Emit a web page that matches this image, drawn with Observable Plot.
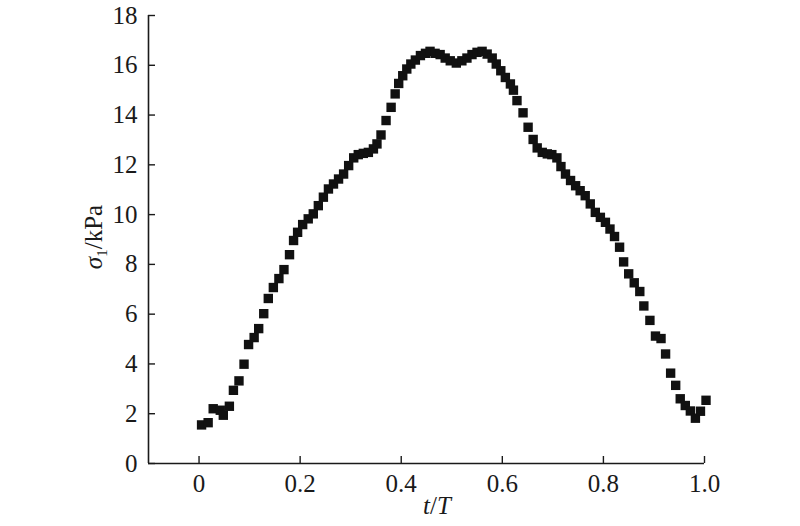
<!DOCTYPE html>
<html>
<head>
<meta charset="utf-8">
<script src="https://cdn.jsdelivr.net/npm/d3@7"></script>
<script src="https://cdn.jsdelivr.net/npm/@observablehq/plot@0.6"></script>
<style>
  html, body { margin: 0; padding: 0; background: #fff; }
  #chart svg { display: block; }
</style>
</head>
<body>
<div id="chart"></div>
<script>
// t/T values
const tValues = [
  0.005, 0.018, 0.028, 0.042, 0.048, 0.060, 0.068, 0.079, 0.089, 0.098,
  0.109, 0.118, 0.128, 0.137, 0.147, 0.158, 0.168, 0.179, 0.187, 0.195,
  0.205, 0.216, 0.226, 0.236, 0.246, 0.256, 0.266, 0.276, 0.286, 0.296,
  0.306, 0.315, 0.325, 0.335, 0.345, 0.352, 0.360, 0.370, 0.380, 0.388,
  0.395, 0.403, 0.411, 0.419, 0.428, 0.438, 0.448, 0.457, 0.467, 0.477,
  0.487, 0.497, 0.509, 0.520, 0.530, 0.540, 0.550, 0.560, 0.570, 0.580,
  0.588, 0.597, 0.606, 0.616, 0.622, 0.629, 0.641, 0.651, 0.661, 0.669,
  0.679, 0.689, 0.698, 0.708, 0.716, 0.725, 0.735, 0.745, 0.754, 0.764,
  0.774, 0.784, 0.794, 0.804, 0.813, 0.822, 0.832, 0.840, 0.850, 0.861,
  0.872, 0.880, 0.892, 0.903, 0.914, 0.923, 0.933, 0.943, 0.952, 0.962,
  0.972, 0.982, 0.992, 1.003
];
// sigma_1 (kPa) values
const sigmaValues = [
  1.55, 1.64, 2.20, 2.14, 1.94, 2.30, 2.94, 3.32, 3.99, 4.78,
  5.06, 5.42, 6.02, 6.63, 7.07, 7.43, 7.79, 8.39, 8.96, 9.29,
  9.60, 9.83, 10.03, 10.36, 10.70, 11.03, 11.23, 11.43, 11.63, 11.97,
  12.28, 12.41, 12.46, 12.50, 12.64, 12.84, 13.20, 13.78, 14.31, 14.85,
  15.27, 15.58, 15.85, 16.05, 16.21, 16.39, 16.48, 16.56, 16.48, 16.43,
  16.29, 16.18, 16.09, 16.18, 16.29, 16.43, 16.52, 16.56, 16.45, 16.29,
  16.05, 15.78, 15.51, 15.25, 15.00, 14.58, 14.09, 13.51, 13.02, 12.68,
  12.50, 12.44, 12.41, 12.28, 11.93, 11.63, 11.37, 11.16, 10.96, 10.76,
  10.43, 10.09, 9.89, 9.69, 9.42, 9.12, 8.69, 8.10, 7.62, 7.26,
  6.91, 6.33, 5.75, 5.12, 5.02, 4.40, 3.63, 3.14, 2.60, 2.33,
  2.11, 1.82, 2.10, 2.54
];
const xTicks = [0, 0.2, 0.4, 0.6, 0.8, 1.0];
const xTickLabels = ["0", "0.2", "0.4", "0.6", "0.8", "1.0"];
const yTicks = [0, 2, 4, 6, 8, 10, 12, 14, 16, 18];
const xDomain = [-0.1, 1.0];
const yDomain = [0, 18];

const data = tValues.map((t, i) => ({t, s: sigmaValues[i]}));

const font = "'Liberation Serif', 'DejaVu Serif', serif";
const ink = "#1a1a1a";

const chart = Plot.plot({
  width: 800,
  height: 526,
  marginLeft: 148,
  marginRight: 96,
  marginTop: 15,
  marginBottom: 63,
  style: {fontFamily: font, background: "#fff", color: ink},
  x: {domain: xDomain, label: null},
  y: {domain: yDomain, label: null},
  marks: [
    Plot.ruleX([xDomain[0]], {stroke: ink, strokeWidth: 1.6}),
    Plot.ruleY([yDomain[0]], {stroke: ink, strokeWidth: 1.6}),
    // inward ticks
    Plot.axisY(yTicks, {tickSize: -7, tickFormat: () => "", stroke: ink, strokeWidth: 1.4}),
    Plot.axisX(xTicks, {tickSize: -7, tickFormat: () => "", stroke: ink, strokeWidth: 1.4}),
    // labels
    Plot.axisY(yTicks, {tickSize: 0, tickPadding: 11, fontSize: 25, fill: ink, label: null}),
    Plot.axisX(xTicks, {tickSize: 0, tickPadding: 11, fontSize: 25, fill: ink, label: null,
      tickFormat: (d) => xTickLabels[xTicks.indexOf(d)]}),
    Plot.dot(data, {x: "t", y: "s", symbol: "square", r: 5.3, fill: "#111", stroke: "none"})
  ]
});

document.getElementById("chart").appendChild(chart);

// axis titles with italic / subscript parts
const svg = d3.select(chart);
const yt = svg.append("text")
  .attr("transform", "translate(102,237) rotate(-90)")
  .attr("text-anchor", "middle")
  .attr("font-family", font)
  .attr("font-size", 25)
  .attr("fill", ink);
yt.append("tspan").attr("font-style", "italic").text("σ");
yt.append("tspan").attr("font-size", 15).attr("dy", 5).text("1");
yt.append("tspan").attr("dy", -5).text("/kPa");

const xt = svg.append("text")
  .attr("x", 437)
  .attr("y", 514)
  .attr("text-anchor", "middle")
  .attr("font-family", font)
  .attr("font-size", 25)
  .attr("fill", ink);
xt.append("tspan").attr("font-style", "italic").text("t");
xt.append("tspan").text("/");
xt.append("tspan").attr("font-style", "italic").text("T");
</script>
</body>
</html>
